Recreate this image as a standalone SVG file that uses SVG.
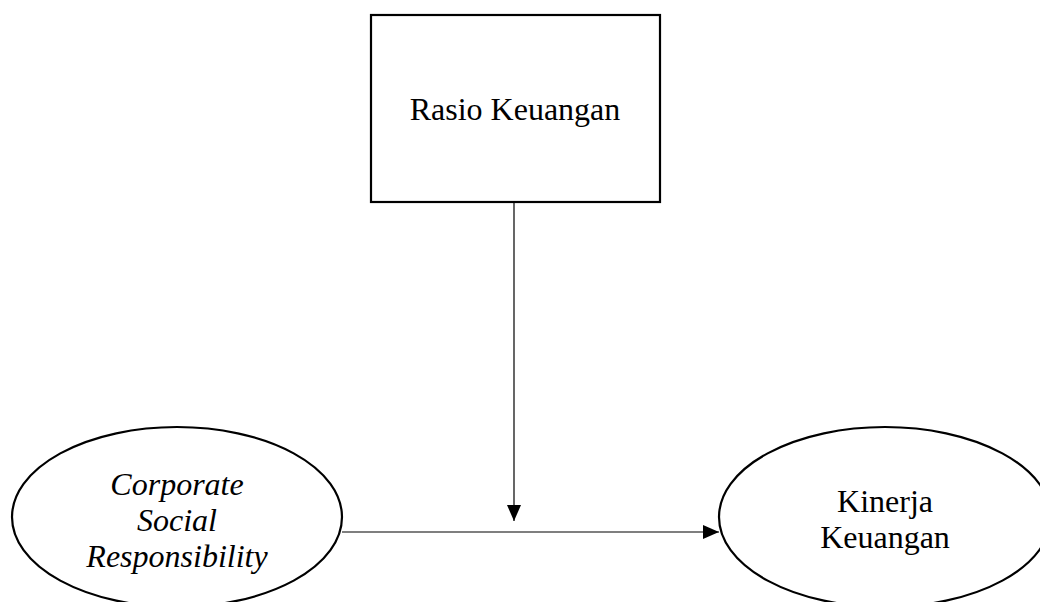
<svg xmlns="http://www.w3.org/2000/svg" width="1040" height="602" viewBox="0 0 1040 602">
<style>
.shape{fill:#fff;stroke:#000;stroke-width:2.2}
.lbl{font-family:"Liberation Serif","Times New Roman",serif;font-size:32px;fill:#000;text-anchor:middle}
.it{font-style:italic}
.conn{stroke:#000;stroke-width:1.2;fill:none}
</style>
<defs>
<marker id="ah" viewBox="0 0 16 14" refX="16" refY="7" markerWidth="16" markerHeight="14" markerUnits="userSpaceOnUse" orient="auto">
<path d="M0,0 L16,7 L0,14 Z" fill="#000"/>
</marker>
</defs>
<rect width="1040" height="602" fill="#fff"/>
<g id="rasio">
<rect class="shape" x="371" y="15" width="289" height="187"/>
<text class="lbl" x="515" y="120">Rasio Keuangan</text>
</g>
<g id="csr">
<ellipse class="shape" cx="177" cy="517" rx="165" ry="90"/>
<text class="lbl it" x="177" y="495">Corporate</text>
<text class="lbl it" x="177" y="531">Social</text>
<text class="lbl it" x="177" y="567">Responsibility</text>
</g>
<g id="kinerja">
<ellipse class="shape" cx="885" cy="517" rx="166" ry="90"/>
<text class="lbl" x="885" y="512">Kinerja</text>
<text class="lbl" x="885" y="548">Keuangan</text>
</g>
<g id="connectors">
<line class="conn" x1="514" y1="202" x2="514" y2="521" marker-end="url(#ah)"/>
<line class="conn" x1="342" y1="532" x2="719" y2="532" marker-end="url(#ah)"/>
</g>
</svg>
